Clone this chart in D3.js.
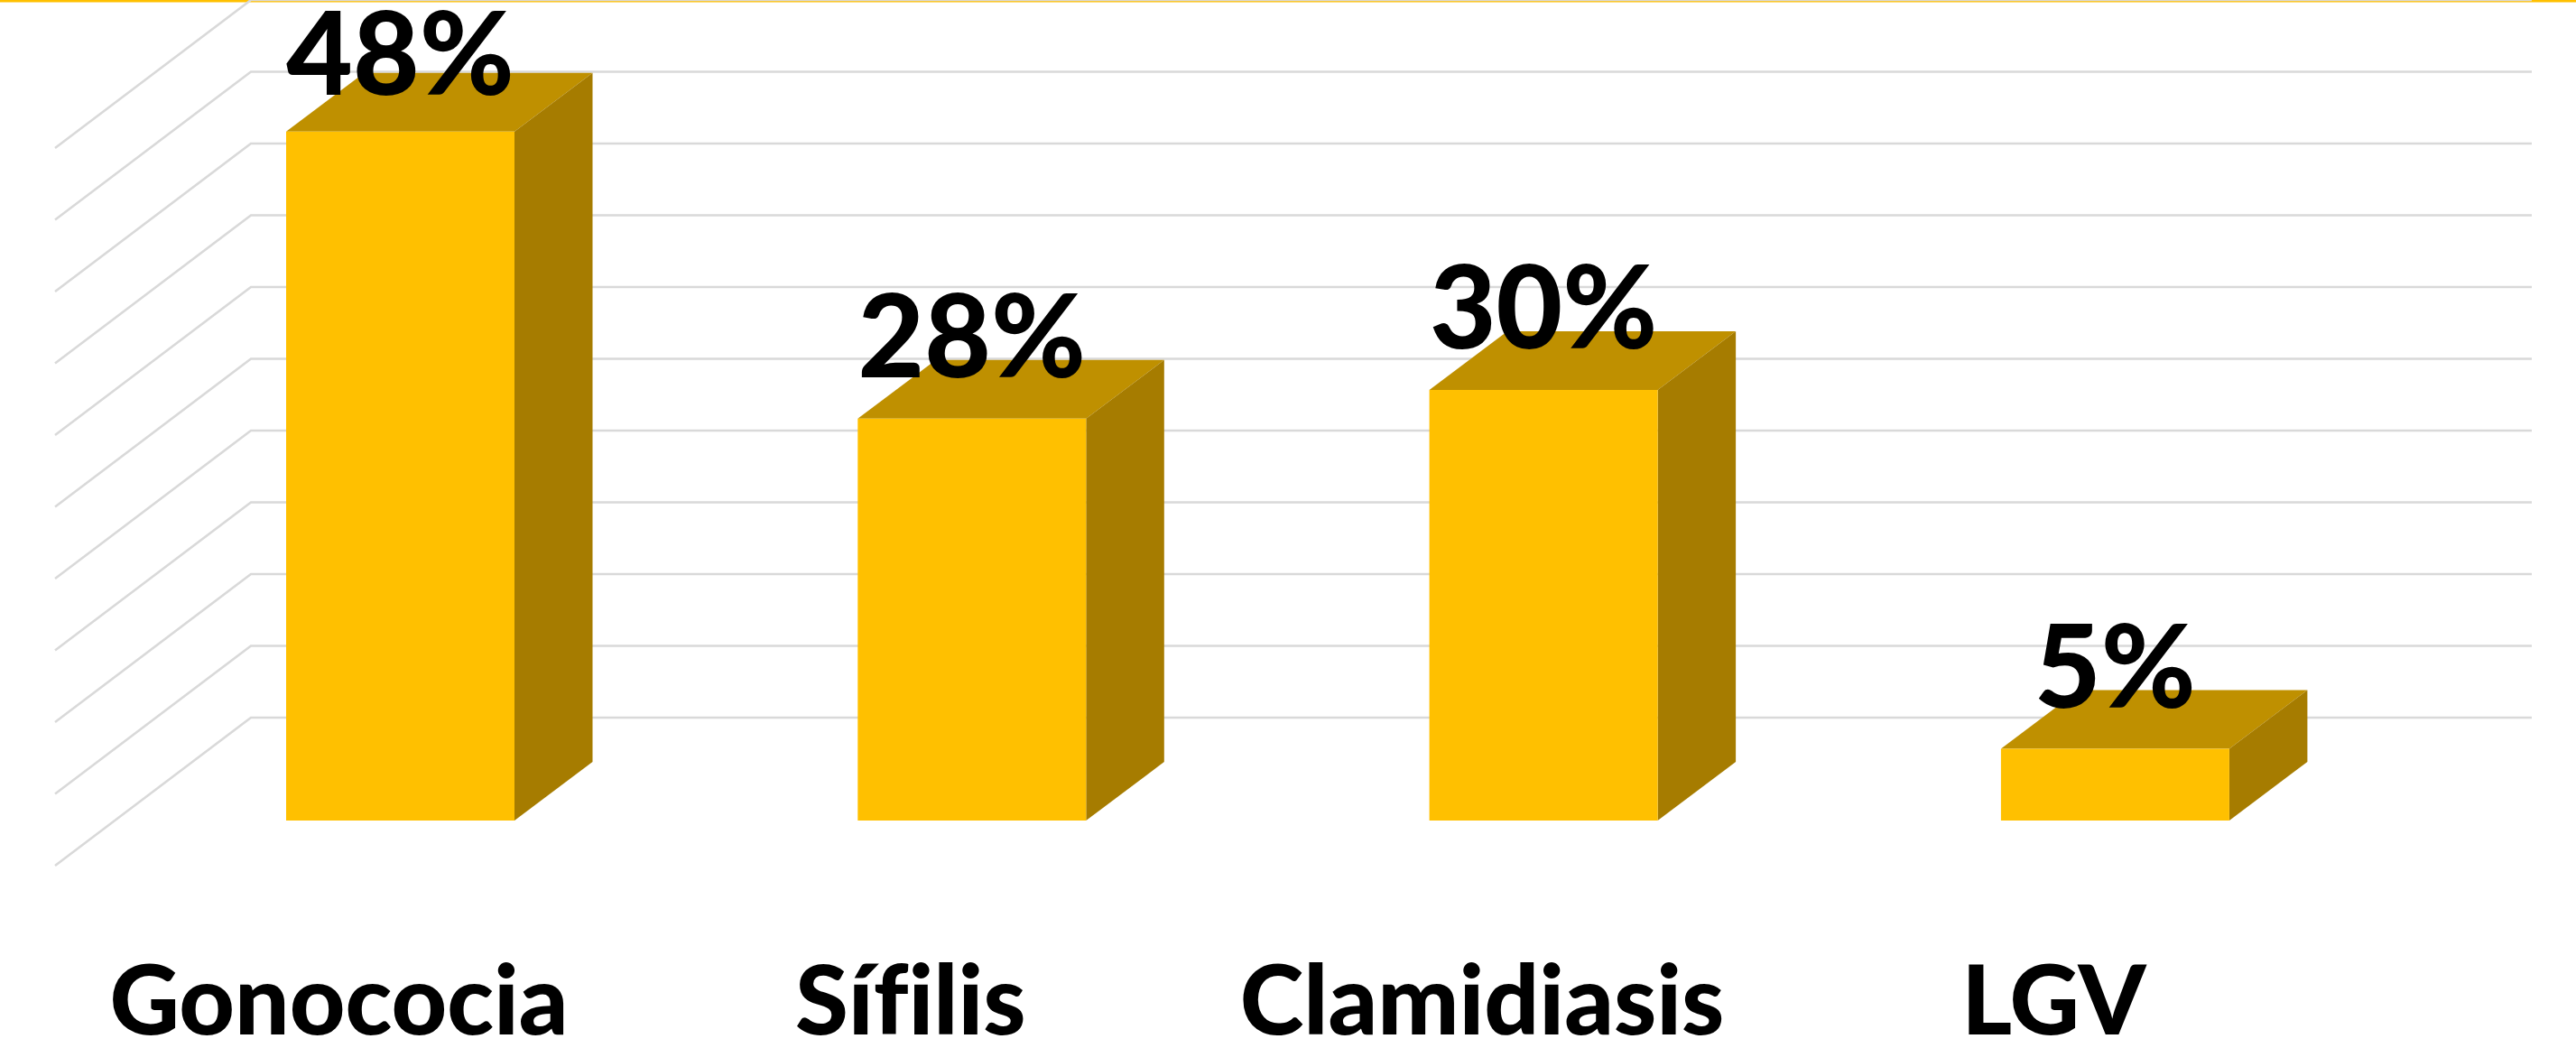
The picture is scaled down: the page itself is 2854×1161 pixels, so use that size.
<!DOCTYPE html>
<html><head><meta charset="utf-8">
<script src="https://cdnjs.cloudflare.com/ajax/libs/d3/7.8.5/d3.min.js"></script>
<style>html,body{margin:0;padding:0;background:#fff}svg{display:block}
text{font-family:Lato,"Open Sans",sans-serif;font-weight:900;fill:#000;font-variant-ligatures:none;font-feature-settings:"liga" 0}</style></head>
<body><svg id="c" width="2854" height="1161"></svg>
<script>
const categories=["Gonococia","Sífilis","Clamidiasis","LGV"];
const values=[48,28,30,5];
const valueLabels=["48%","28%","30%","5%"];
const gridTicks=[0,5,10,15,20,25,30,35,40,45,50];

const W=2854,H=1161;
const svg=d3.select("#c");
const bw=253,step=633.3,first=317;
const xBar=d3.scalePoint().domain(categories).range([first,first+3*step]);
const yBar=d3.scaleLinear().domain([0,5]).range([909,829.5]);
const yWall=d3.scaleLinear().domain([0,50]).range([795,0]);
const barDX=86.5,barDY=65,wallDX=217,wallDY=164,wallX=278,wallRight=2805;
const C={front:"#FFC000",top:"#BF9000",side:"#A67C00",grid:"#D9D9D9"};
const lift=i=>i===0?41:46;

svg.append("rect").attr("width",W).attr("height",2.5).attr("fill",C.front);

const line=d3.line();
svg.append("g").attr("fill","none").attr("stroke",C.grid).attr("stroke-width",2.6)
 .selectAll("path").data(gridTicks).join("path")
 .attr("d",t=>{const y=yWall(t);return line([[wallX-wallDX,y+wallDY],[wallX,y],[wallRight,y]]);});

const g=svg.append("g").selectAll("g").data(categories).join("g");
g.append("path").attr("fill",C.top).attr("d",(c,i)=>{const l=xBar(c),t=yBar(values[i]);
 return line([[l,t],[l+bw,t],[l+bw+barDX,t-barDY],[l+barDX,t-barDY]])+"Z";});
g.append("path").attr("fill",C.side).attr("d",(c,i)=>{const l=xBar(c)+bw,t=yBar(values[i]),b=yBar(0);
 return line([[l,t],[l+barDX,t-barDY],[l+barDX,b-barDY],[l,b]])+"Z";});
g.append("rect").attr("fill",C.front).attr("x",c=>xBar(c)).attr("width",bw)
 .attr("y",(c,i)=>yBar(values[i])).attr("height",(c,i)=>yBar(0)-yBar(values[i]));

svg.append("g").selectAll("text").data(valueLabels).join("text")
 .attr("text-anchor","middle").attr("font-size",127)
 .attr("x",(d,i)=>xBar(categories[i])+bw/2)
 .attr("y",(d,i)=>yBar(values[i])-lift(i)).text(d=>d);

svg.append("g").selectAll("text").data(categories).join("text")
 .attr("text-anchor","middle").attr("font-size",107)
 .attr("x",c=>xBar(c)+bw/2-68).attr("y",1146).text(c=>c);
</script></body></html>
